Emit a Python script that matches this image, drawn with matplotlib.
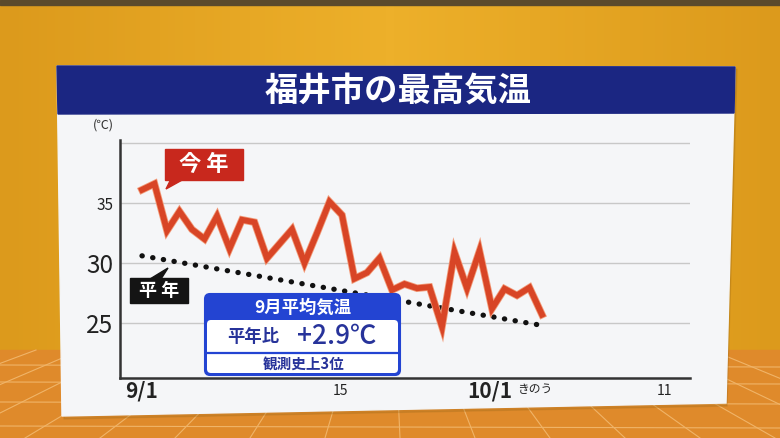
import matplotlib
matplotlib.use('Agg')
import matplotlib.pyplot as plt
import numpy as np
from matplotlib.patches import Rectangle, FancyBboxPatch, Polygon
import matplotlib.patheffects as pe

plt.rcParams['font.family'] = ['Noto Sans CJK JP', 'DejaVu Sans']

# ---- data ----
day_index = list(range(1, 34))
this_year = [36.1, 36.6, 32.7, 34.3, 32.8, 32.0, 33.9, 31.2, 33.6, 33.4,
             30.4, 31.6, 32.8, 30.0, 32.5, 35.1, 34.0, 28.7, 29.2, 30.4,
             27.75, 28.25, 27.9, 28.0, 24.7, 30.9, 27.9, 31.0, 26.2, 27.85,
             27.3, 27.95, 25.7]
normal_x = [1, 33]
normal_vals = [30.6, 24.8]
grid_levels = [25, 30, 35, 40]
y_ticks = [25, 30, 35]
y_tick_labels = ['25', '30', '35']
y_tick_sizes = [17.5, 17.5, 11]
x_tick_pos = [1, 16.9, 28.8, 42.8]
x_tick_labels = ['9/1', '15', '10/1', '11']
x_tick_sizes = [15, 10, 15, 10]
note_pos = 32.4
note_label = 'きのう'
title = '福井市の最高気温'

W, H = 780, 438
fig = plt.figure(figsize=(W / 100, H / 100), dpi=100)
fig.patch.set_facecolor('#e7a822')

# ---- background (pixel coords) ----
bg = fig.add_axes([0, 0, 1, 1], zorder=0)
bg.set_xlim(0, W); bg.set_ylim(H, 0); bg.axis('off')
grad = np.linspace(0, 1, 200)
grad = 1 - np.abs(grad - 0.5) * 2
bg.imshow(np.tile(grad, (10, 1)), extent=(0, W, H, 0),
          cmap=matplotlib.colors.LinearSegmentedColormap.from_list('g', ['#dc9a1c', '#edb02a']),
          aspect='auto', zorder=0)
bg.add_patch(Rectangle((0, 0), W, 5, color='#5b4a2c', zorder=1))
bg.add_patch(Polygon([(0, 350), (W, 350), (W, H), (0, H)], closed=True, color='#df8a2b', zorder=1))
for yy in [365, 382, 402, 426]:
    bg.plot([0, W], [yy, yy + 2], color='#f0b468', lw=0.8, zorder=2)
for xb in np.arange(-200, 1000, 75):
    bg.plot([390 + (xb - 390) * 0.6, xb], [350, H], color='#f0b468', lw=0.8, zorder=2)
# panel shadow and panel
bg.add_patch(Polygon([(59, 68), (737, 69), (727, 406), (64, 419)], closed=True, color='#9c6a1a', alpha=0.25, zorder=3))
bg.add_patch(Polygon([(57, 66), (735, 67), (726, 403), (62, 416)], closed=True, color='#f5f6f8', zorder=4))
bg.add_patch(Polygon([(57, 66), (735, 67), (734, 113), (58, 114)], closed=True, color='#1b2682', zorder=5))
bg.text(398, 91, title, color='white', fontsize=24, fontweight='bold', ha='center', va='center', zorder=6)

# ---- chart ----
ax = fig.add_axes([120 / W, 1 - 378 / H, 570 / W, 238 / H], zorder=2)
ax.set_facecolor('none')
ax.set_xlim(-0.76, 44.84)
ax.set_ylim(20.42, 40.25)
for g in grid_levels:
    ax.axhline(g, color='#c8c8c8', lw=1, zorder=1)
ax.plot(normal_x, normal_vals, color='#111111', lw=3.8, linestyle=(0, (0.05, 2.0)),
        dash_capstyle='round', zorder=3)
ax.plot(day_index, this_year, color='#d84526', lw=4.2, solid_joinstyle='miter', zorder=4,
        path_effects=[pe.Stroke(linewidth=5.4, foreground='#f29a78'), pe.Normal()])
for s in ['top', 'right']:
    ax.spines[s].set_visible(False)
for s in ['left', 'bottom']:
    ax.spines[s].set_color('#333333'); ax.spines[s].set_linewidth(1.8)
ax.set_yticks(y_ticks, y_tick_labels)
for lab, fs in zip(ax.get_yticklabels(), y_tick_sizes):
    lab.set_fontsize(fs); lab.set_color('#222222')
ax.tick_params(axis='y', length=0, pad=5)
ax.set_xticks([])
xt = ax.get_xaxis_transform()
for p, l, fs in zip(x_tick_pos, x_tick_labels, x_tick_sizes):
    ax.text(p, -0.055, l, transform=xt, ha='center', va='center', fontsize=fs, color='#222222',
            fontweight='bold' if fs > 12 else 'normal', clip_on=False)
ax.text(note_pos, -0.05, note_label, transform=xt, ha='center', va='center', fontsize=8.5,
        color='#222222', clip_on=False)
ax.text(-0.03, 1.063, '(℃)', transform=ax.transAxes, ha='center', va='center', fontsize=9, color='#333333')

# ---- overlay labels ----
ov = fig.add_axes([0, 0, 1, 1], zorder=5)
ov.set_xlim(0, W); ov.set_ylim(H, 0); ov.axis('off')
# 今年
ov.add_patch(Polygon([(171, 179), (184, 179), (166, 189)], closed=True, color='#c8281d', zorder=2))
ov.add_patch(Rectangle((165, 149), 78, 31, color='#c8281d', zorder=2))
ov.text(204, 164.5, '今 年', color='white', fontsize=16, fontweight='bold', ha='center', va='center', zorder=3)
# 平年
ov.add_patch(Polygon([(150, 279), (161, 279), (168, 268)], closed=True, color='#141414', zorder=2))
ov.add_patch(Rectangle((130, 278), 58, 25, color='#141414', zorder=2))
ov.text(159, 290.5, '平 年', color='white', fontsize=13, fontweight='bold', ha='center', va='center', zorder=3)
# info box
ov.add_patch(FancyBboxPatch((205, 294), 195, 81, boxstyle='round,pad=0,rounding_size=5',
                            facecolor='#2344d2', edgecolor='#2344d2', lw=1.5, zorder=2))
ov.add_patch(FancyBboxPatch((207, 320), 191, 53, boxstyle='round,pad=0,rounding_size=4',
                            facecolor='white', edgecolor='none', zorder=3))
ov.plot([207, 398], [353, 353], color='#2344d2', lw=1.6, zorder=4)
ov.text(303, 307.5, '9月平均気温', color='white', fontsize=12.5, fontweight='bold', ha='center', va='center', zorder=5)
ov.text(253, 337, '平年比', color='#27339a', fontsize=12.5, fontweight='bold', ha='center', va='center', zorder=5)
ov.text(337, 336, '+2.9℃', color='#27339a', fontsize=19, fontweight='medium', ha='center', va='center', zorder=5)
ov.text(304, 364, '観測史上3位', color='#27339a', fontsize=10.5, fontweight='bold', ha='center', va='center', zorder=5)

fig.savefig('out.png', dpi=100, facecolor=fig.get_facecolor())
